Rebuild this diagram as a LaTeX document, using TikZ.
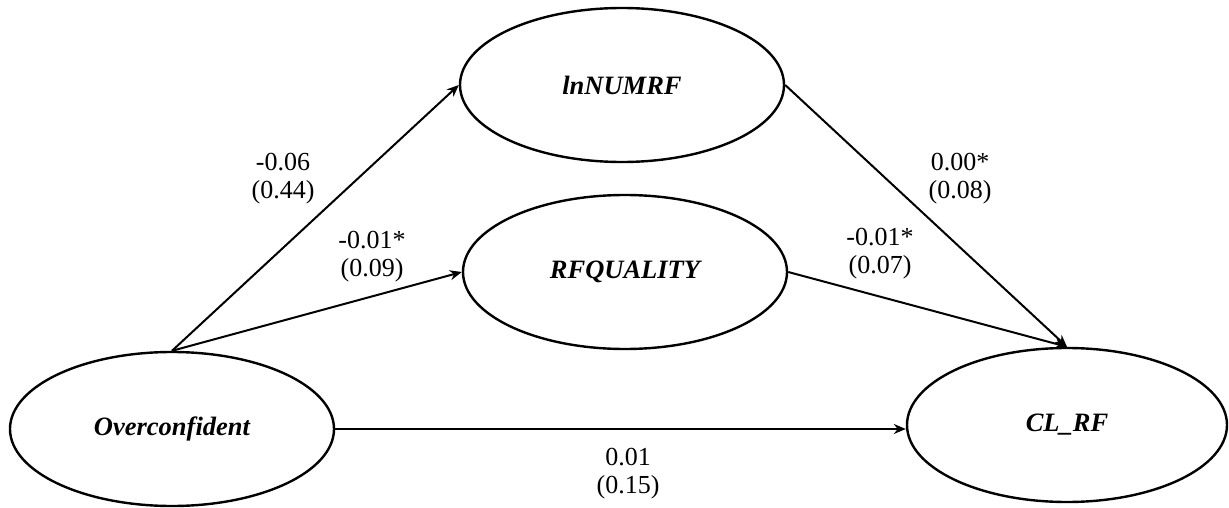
\documentclass[tikz,border=0pt]{standalone}
\usepackage{fontspec}
\setmainfont{Liberation Serif}
\usetikzlibrary{shapes.geometric,arrows.meta}
\begin{document}
\begin{tikzpicture}[x=1pt,y=-1pt,
  latent/.style={draw,line width=2.4pt,ellipse,inner sep=0pt,minimum width=324pt,minimum height=154pt,font=\fontsize{26.5}{30}\selectfont\bfseries\itshape},
  path/.style={line width=2pt,-{Stealth[length=12pt,width=10pt]}},
  coef/.style={align=center,font=\fontsize{26}{28}\selectfont,inner sep=0pt}]
\useasboundingbox (0,0) rectangle (1229,508);
\node[latent] (ln) at (622,85) {lnNUMRF};
\node[latent] (rq) at (625,272) {RFQUALITY};
\node[latent] (oc) at (172,429) {Overconfident};
\node[latent,minimum width=320pt] (cl) at (1067,425) {CL\_RF};
\draw[path] (oc.north) -- (ln.west);
\draw[path] (oc.north) -- (rq.west);
\draw[path] (ln.east) -- (cl.north);
\draw[path] (rq.east) -- (cl.north);
\draw[path] (oc.east) -- (cl.west |- oc.east);
\node[coef] (l1) at (283,179) {-0.06\\(0.44)};
\node[coef] (l2) at (372,257) {-0.01*\\(0.09)};
\node[coef] (l3) at (960,179) {0.00*\\(0.08)};
\node[coef] (l4) at (880,254) {-0.01*\\(0.07)};
\node[coef] (l5) at (628,474) {0.01\\(0.15)};
\end{tikzpicture}
\end{document}
